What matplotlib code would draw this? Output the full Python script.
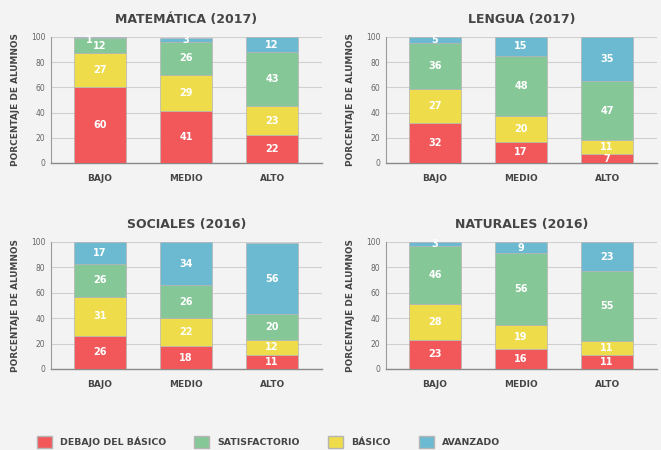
import matplotlib.pyplot as plt
from matplotlib.patches import Patch

# Rendimiento por nivel socioeconómico, cuatro áreas
NIVELES = ['BAJO', 'MEDIO', 'ALTO']

TITULOS = ['MATEMÁTICA (2017)', 'LENGUA (2017)', 'SOCIALES (2016)', 'NATURALES (2016)']

# porcentajes por categoría de desempeño (BAJO, MEDIO, ALTO)
debajo = [[60, 41, 22], [32, 17, 7], [26, 18, 11], [23, 16, 11]]
basico = [[27, 29, 23], [27, 20, 11], [31, 22, 12], [28, 19, 11]]
satisfactorio = [[12, 26, 43], [36, 48, 47], [26, 26, 20], [46, 56, 55]]
avanzado = [[1, 3, 12], [5, 15, 35], [17, 34, 56], [3, 9, 23]]

Y_TICKS = [0, 20, 40, 60, 80, 100]

C_DEBAJO = '#f2585a'
C_BASICO = '#eedc4b'
C_SATIS = '#85c797'
C_AVANZ = '#6bbad1'
BG = '#f3f3f3'
TXT = '#454545'

plt.rcParams['font.family'] = ['DejaVu Sans']
plt.rcParams['font.weight'] = 'bold'

fig = plt.figure(figsize=(6.61, 4.5), dpi=100, facecolor=BG)

W, H = 661, 450
# (left px, top px, bottom px) of each panel
cajas = [(51, 37, 163), (386, 37, 163), (51, 242, 369), (386, 242, 369)]
ancho_px = 271

for i, (lx, top, bot) in enumerate(cajas):
    ax = fig.add_axes([lx / W, 1 - bot / H, ancho_px / W, (bot - top) / H])
    ax.set_facecolor(BG)
    x = range(len(NIVELES))
    capas = [(debajo[i], C_DEBAJO), (basico[i], C_BASICO),
             (satisfactorio[i], C_SATIS), (avanzado[i], C_AVANZ)]
    base = [0, 0, 0]
    for vals, col in capas:
        bars = ax.bar(x, vals, width=0.6, bottom=base, color=col,
                      edgecolor='#b5b5b5', linewidth=0.5, zorder=3)
        for b, v, b0 in zip(bars, vals, base):
            cx = b.get_x() + b.get_width() / 2
            cy = b0 + v / 2
            if v < 2:
                # segmento muy fino: etiqueta corrida a la izquierda
                cx -= 0.13
                cy -= 1.5
            ax.text(cx, cy, str(v), ha='center', va='center', color='white',
                    fontsize=7, fontweight='bold', zorder=4)
        base = [a + v for a, v in zip(base, vals)]

    ax.set_xlim(-0.57, 2.58)
    ax.set_ylim(0, 100)
    ax.set_yticks(Y_TICKS)
    ax.set_yticklabels([str(t) for t in Y_TICKS], fontsize=5.5,
                       color='#666666', fontweight='normal')
    ax.set_xticks(list(x))
    ax.set_xticklabels(NIVELES, fontsize=6.5, color=TXT, fontweight='bold')
    ax.tick_params(axis='both', length=0)
    ax.tick_params(axis='x', pad=8)
    ax.tick_params(axis='y', pad=4)
    ax.grid(axis='y', color='#cfcfcf', linewidth=0.8, zorder=0)
    for s in ['top', 'right']:
        ax.spines[s].set_visible(False)
    ax.spines['left'].set_color('#9a9a9a')
    ax.spines['left'].set_linewidth(0.8)
    ax.spines['bottom'].set_color('#8a8a8a')
    ax.spines['bottom'].set_linewidth(1.0)

    ax.set_ylabel('PORCENTAJE DE ALUMNOS', fontsize=6.4, color=TXT,
                  fontweight='bold')
    ax.yaxis.set_label_coords(-31 / ancho_px, 0.5)
    ax.text(0.5, 1 + 17 / (bot - top), TITULOS[i], transform=ax.transAxes,
            ha='center', va='center', fontsize=9, color=TXT, fontweight='bold')

handles = [Patch(facecolor=C_DEBAJO, edgecolor='#b5b5b5', label='DEBAJO DEL BÁSICO'),
           Patch(facecolor=C_SATIS, edgecolor='#b5b5b5', label='SATISFACTORIO'),
           Patch(facecolor=C_BASICO, edgecolor='#b5b5b5', label='BÁSICO'),
           Patch(facecolor=C_AVANZ, edgecolor='#b5b5b5', label='AVANZADO')]
leg = fig.legend(handles=handles, loc='center left', ncol=4,
                 bbox_to_anchor=(37 / W, 1 - 442 / H), frameon=False,
                 borderpad=0, borderaxespad=0, handlelength=1.6,
                 handleheight=1.6, handletextpad=0.85, columnspacing=3.0,
                 prop={'size': 6.75, 'weight': 'bold'})
for t in leg.get_texts():
    t.set_color(TXT)

fig.savefig('out.png', dpi=100, facecolor=BG)
